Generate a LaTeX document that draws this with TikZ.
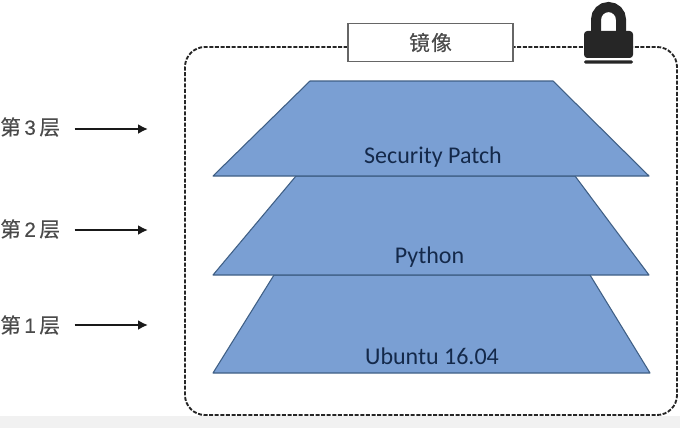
\documentclass[tikz,border=0pt]{standalone}
\usepackage{fontspec}
\setmainfont{Carlito}
\newfontfamily\cjk[FakeBold=0.4]{Noto Sans CJK SC}
\newfontfamily\arialf[FakeBold=0.3]{Liberation Sans}
\definecolor{layerblue}{HTML}{7A9FD3}
\definecolor{layeredge}{HTML}{3F5F85}
\definecolor{labelink}{HTML}{14294A}
\definecolor{graytext}{HTML}{4A4A4A}
\definecolor{lockink}{HTML}{262626}
\definecolor{bandgray}{HTML}{F1F1F1}
\usetikzlibrary{arrows.meta}
\tikzset{
  layer/.style={fill=layerblue,draw=layeredge,line width=0.8pt,line join=round},
  layertext/.style={font=\fontsize{18}{18}\selectfont,text=labelink,inner sep=0pt},
  levellabel/.style={font=\fontsize{15.5}{16}\selectfont,text=graytext,inner sep=0pt,minimum width=55.5pt,minimum height=14pt,align=left,anchor=west,text width=55.5pt},
  levelarrow/.style={-{Latex[length=7.5pt,width=7.5pt]},line width=1.7pt,draw=black!90},
  boundary/.style={draw=black!85,line width=1.4pt,dash pattern=on 3pt off 1.2pt},
  titlebox/.style={draw=black!60,fill=white,line width=1.1pt,minimum width=124pt,minimum height=28.5pt,inner sep=0pt,font=\cjk\fontsize{15.5}{16}\selectfont,text=graytext}
}
\begin{document}
\begin{tikzpicture}[x=0.75pt,y=-0.75pt]
\useasboundingbox (0,0) rectangle (680,428);
\fill[white] (0,0) rectangle (680,428);
\fill[bandgray] (0,416) rectangle (680,428);
% dashed boundary
\draw[boundary,rounded corners=15pt] (430,47) -- (677,47) -- (677,415) -- (185,415) -- (185,47) -- cycle;
% layers, bottom first
\filldraw[layer] (274,275) -- (590,275) -- (650,373) -- (213,373) -- cycle;
\filldraw[layer] (296,176) -- (575,176) -- (649,275) -- (213,275) -- cycle;
\filldraw[layer] (310,81) -- (553,81) -- (649,176) -- (213,176) -- cycle;
\node[layertext] (t3) at (433,157) {Security Patch};
\node[layertext] (t2) at (429.5,257) {Python};
\node[layertext] (t1) at (432,356) {Ubuntu 16.04};
% title
\node[titlebox] (title) at (430.5,42.5) {镜\hspace{1pt}像};
% lock
\draw[lockink,line width=7.5pt] (596,36) -- (596,19.5) arc[start angle=180,end angle=360,radius=12.5] -- (621,36);
\fill[lockink,rounded corners=2.5pt] (584,31) rectangle (633,58);
\fill[lockink,rounded corners=1pt] (584,60.5) rectangle (633,63.5);
% level labels
\node[levellabel] (l3) at (0,127) {{\cjk 第}{\arialf\,3\,}{\cjk 层}};
\node[levellabel] (l2) at (0,229) {{\cjk 第}{\arialf\,2\,}{\cjk 层}};
\node[levellabel] (l1) at (0,325) {{\cjk 第}{\arialf\,1\,}{\cjk 层}};
\coordinate (a3) at (148,129);
\coordinate (a2) at (148,230);
\coordinate (a1) at (148,325);
\draw[levelarrow] (l3.east |- a3) -- (a3);
\draw[levelarrow] (l2.east |- a2) -- (a2);
\draw[levelarrow] (l1.east |- a1) -- (a1);
\end{tikzpicture}
\end{document}
